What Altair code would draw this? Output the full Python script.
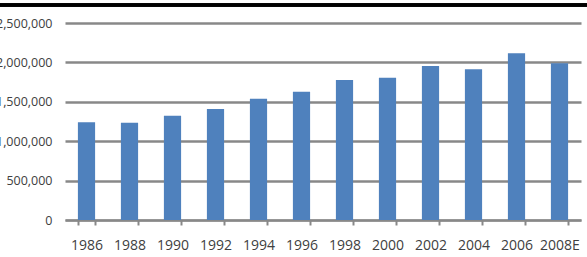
import altair as alt
import pandas as pd

years = ["1986", "1988", "1990", "1992", "1994", "1996", "1998", "2000",
         "2002", "2004", "2006", "2008E"]
values = [1240000, 1235000, 1324000, 1409000, 1539000, 1628000, 1777000,
          1806000, 1954000, 1912000, 2115000, 1989000]

df = pd.DataFrame({"year": years, "value": values})

FONT = "Open Sans"
GRID = "#888888"
TEXT = "#404040"

bars = alt.Chart(df).mark_bar(color="#4F81BD").encode(
    x=alt.X("year:N", sort=years, title=None,
            scale=alt.Scale(paddingInner=0.6, paddingOuter=0.3),
            axis=alt.Axis(labelAngle=0, labelFont=FONT, labelFontSize=14,
                          labelColor=TEXT, domainColor=GRID, domainWidth=2,
                          tickColor=GRID, tickWidth=2, tickSize=5,
                          tickBand="extent", labelPadding=13, grid=False)),
    y=alt.Y("value:Q", title=None,
            scale=alt.Scale(domain=[0, 2500000], nice=False),
            axis=alt.Axis(values=[0, 500000, 1000000, 1500000, 2000000, 2500000],
                          format=",.0f", labelFont=FONT, labelFontSize=12.5,
                          labelColor=TEXT, domain=False, ticks=False, tickSize=0,
                          labelPadding=13, gridColor=GRID, gridWidth=2.5)),
)

topline = alt.Chart(df).mark_rule(color="black", strokeWidth=2.5).encode(
    x=alt.value(-70), x2=alt.value(530), y=alt.value(-18)
)

chart = alt.layer(bars, topline).properties(
    width=516, height=197,
    background="white",
    autosize=alt.AutoSizeParams(type="none"),
    padding={"left": 65, "top": 23, "right": 6, "bottom": 37},
).configure_view(stroke=None)

chart.save("out.html", embed_options={"renderer": "svg", "actions": False})
